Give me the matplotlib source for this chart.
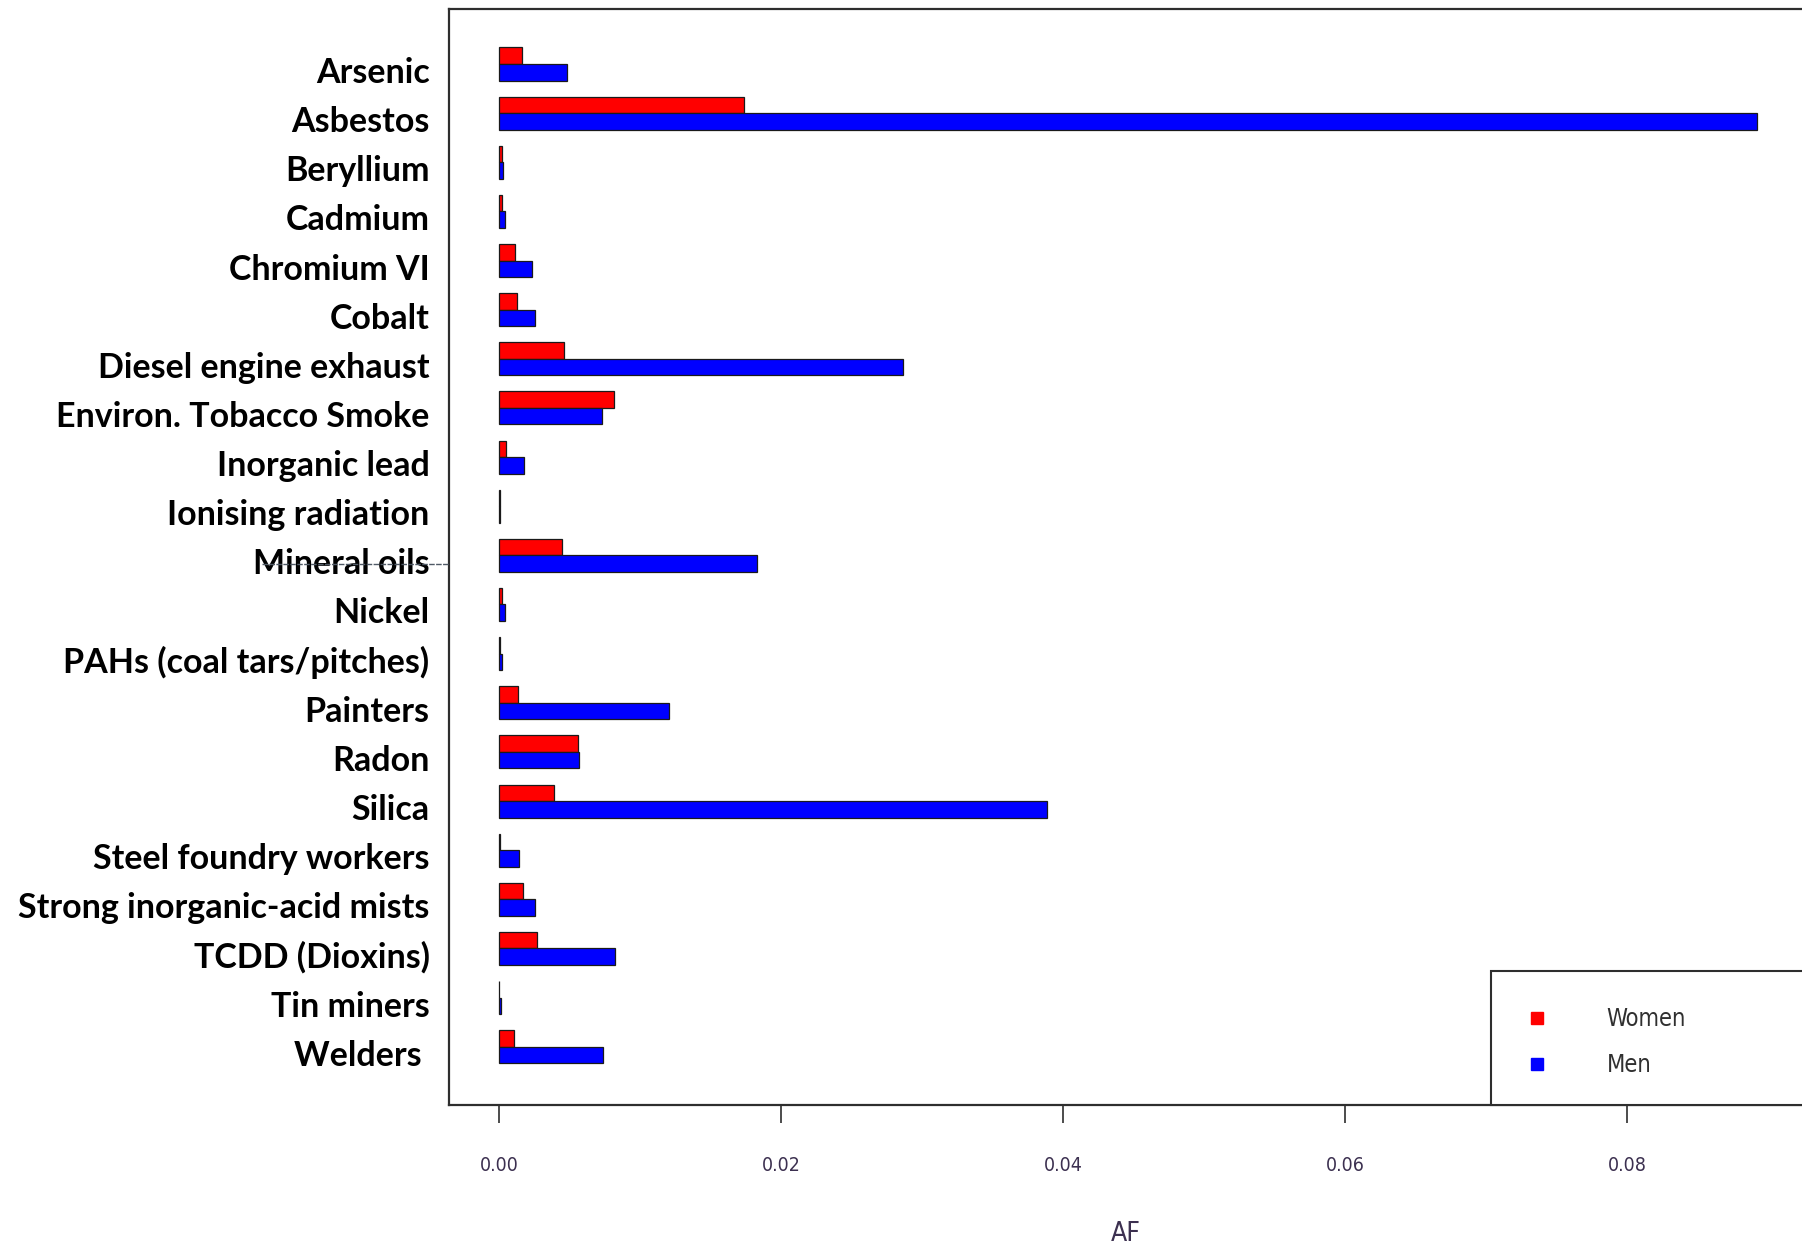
import matplotlib
matplotlib.use("Agg")
import matplotlib.pyplot as plt
import matplotlib.transforms as mtransforms
from matplotlib.lines import Line2D
from matplotlib.patches import Rectangle
import numpy as np

categories = ["Arsenic", "Asbestos", "Beryllium", "Cadmium", "Chromium VI", "Cobalt",
              "Diesel engine exhaust", "Environ. Tobacco Smoke", "Inorganic lead",
              "Ionising radiation", "Mineral oils", "Nickel", "PAHs (coal tars/pitches)",
              "Painters", "Radon", "Silica", "Steel foundry workers",
              "Strong inorganic-acid mists", "TCDD (Dioxins)", "Tin miners", "Welders "]
women = [0.00161, 0.01735, 0.0002, 0.0002, 0.00117, 0.00127, 0.00459, 0.00814, 0.0005,
         0.0001, 0.0045, 0.0002, 0.0001, 0.00136, 0.0056, 0.0039, 0.0001, 0.00171,
         0.00266, 0.00003, 0.00108]
men = [0.00484, 0.0892, 0.0003, 0.00044, 0.00231, 0.00256, 0.02865, 0.00728, 0.0018,
       0.0001, 0.01833, 0.00044, 0.0002, 0.01206, 0.00564, 0.03885, 0.0014, 0.00256,
       0.00823, 0.00015, 0.00738]
xticks = [0.00, 0.02, 0.04, 0.06, 0.08]
xticklabels = ["0.00", "0.02", "0.04", "0.06", "0.08"]
series_labels = ["Women", "Men"]

W, H = 1802, 1251
fig = plt.figure(figsize=(W / 100, H / 100), dpi=100)

ax_left, ax_right, ax_top, ax_bottom = 449, 1802, 9, 1105
ax = fig.add_axes([ax_left / W, 1 - ax_bottom / H, (ax_right - ax_left) / W, (ax_bottom - ax_top) / H])

y = np.arange(len(categories))
h = 0.336
ax.barh(y - h / 2, women, height=h, color="#ff0000", edgecolor="#1a1a1a", linewidth=0.9, label=series_labels[0])
ax.barh(y + h / 2, men, height=h, color="#0000ff", edgecolor="#1a1a1a", linewidth=0.9, label=series_labels[1])

px = 14100.0  # pixels per data unit
ax.set_xlim((ax_left - 499) / px, (ax_right - 499) / px)
ax.set_ylim(20 + (1105 - 1046.7) / 49.13, -(64 - 9) / 49.13)

for side in ["top", "bottom", "left"]:
    ax.spines[side].set_color("#2e2e2e")
    ax.spines[side].set_linewidth(1.6)
ax.spines["right"].set_visible(False)

ax.set_xticks(xticks)
ax.set_xticklabels(xticklabels, family="DejaVu Sans", stretch="condensed", fontsize=14, color="#3c3050")
ax.tick_params(axis="x", length=13, width=1.2, color="#2e2e2e", pad=24)

ax.set_yticks(y)
ax.set_yticklabels(categories, family="Lato", fontweight="bold", fontsize=24.5, color="black")
ax.tick_params(axis="y", length=0, pad=14)
offset = mtransforms.ScaledTranslation(0, -0.19, fig.dpi_scale_trans)
for lab in ax.get_yticklabels():
    lab.set_verticalalignment("baseline")
    lab.set_transform(lab.get_transform() + offset)

ax.set_xlabel("AF", family="DejaVu Sans", stretch="condensed", fontsize=19, color="#3c3050", labelpad=33)

# legend frame
fig.add_artist(Rectangle((1491 / W, 1 - 1105 / H), (1810 - 1491) / W, (1105 - 971) / H,
                         transform=fig.transFigure, facecolor="white",
                         edgecolor="#2e2e2e", linewidth=1.5, zorder=5))
handles = [Line2D([], [], marker="s", linestyle="none", markersize=8, color="#ff0000"),
           Line2D([], [], marker="s", linestyle="none", markersize=8, color="#0000ff")]
leg = fig.legend(handles, series_labels, loc="center left",
                 bbox_to_anchor=((1537 - 12) / W, 1 - 1042 / H),
                 frameon=False, borderpad=0, borderaxespad=0, handlelength=1.0,
                 handletextpad=2.45, labelspacing=0.95,
                 prop={"family": "DejaVu Sans", "stretch": "condensed", "size": 17})
leg.set_zorder(6)
for t in leg.get_texts():
    t.set_color("#303030")

# stray line across "Mineral oils" in the original image
fig.add_artist(Line2D([262 / W, 449 / W], [1 - 564 / H, 1 - 564 / H], transform=fig.transFigure,
                      color="#505a66", linewidth=1.0, linestyle=(0, (4, 1)), zorder=10))

fig.savefig("out.png", dpi=100, facecolor="white")
